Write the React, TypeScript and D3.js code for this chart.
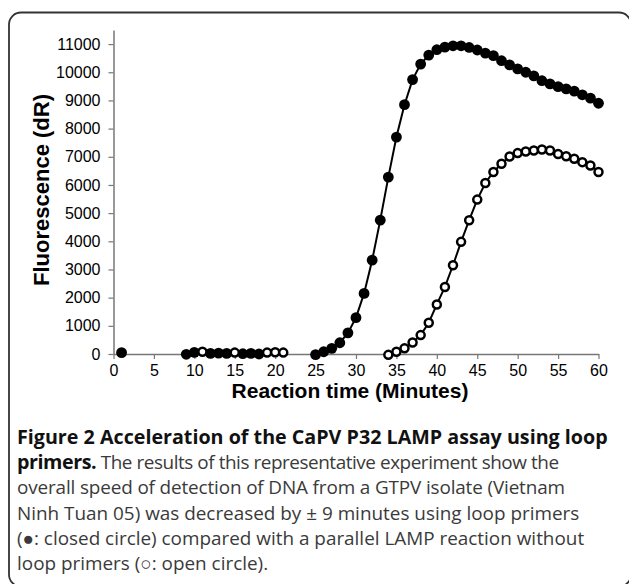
import { useEffect, useRef } from "react";
import * as d3 from "d3";

// closed circles: with loop primers
const closedX = [1, 9, 10, 12, 13, 14, 16, 17, 18, 25, 26, 27, 28, 29, 30, 31, 32, 33, 34, 35, 36, 37, 38, 39, 40, 41, 42, 43, 44, 45, 46, 47, 48, 49, 50, 51, 52, 53, 54, 55, 56, 57, 58, 59, 60];
const closedY = [50, -10, 60, 20, 30, 20, 10, 20, 0, -20, 80, 200, 400, 750, 1290, 2150, 3330, 4750, 6280, 7700, 8850, 9740, 10290, 10610, 10800, 10890, 10940, 10940, 10880, 10790, 10680, 10590, 10410, 10260, 10120, 10000, 9870, 9700, 9590, 9490, 9410, 9330, 9200, 9080, 8900];

// open circles: without loop primers
const openX = [11, 15, 19, 20, 21, 34, 35, 36, 37, 38, 39, 40, 41, 42, 43, 44, 45, 46, 47, 48, 49, 50, 51, 52, 53, 54, 55, 56, 57, 58, 59, 60];
const openY = [80, 50, 50, 60, 50, -30, 80, 200, 410, 670, 1110, 1760, 2380, 3150, 3980, 4750, 5480, 6070, 6460, 6750, 7010, 7130, 7190, 7220, 7260, 7220, 7100, 7020, 6930, 6810, 6690, 6460];

const xTicks = d3.range(0, 61, 5);
const yTicks = d3.range(0, 11001, 1000);

const captionLines = [
  { bold: "Figure 2 Acceleration of the CaPV P32 LAMP assay using loop", rest: "", fit: 0 },
  { bold: "primers.", rest: " The results of this representative experiment show the", fit: 542 },
  { bold: "", rest: "overall speed of detection of DNA from a GTPV isolate (Vietnam", fit: 548 },
  { bold: "", rest: "Ninh Tuan 05) was decreased by \u00b1 9 minutes using loop primers", fit: 0 },
  { bold: "", rest: "(\u25cf: closed circle) compared with a parallel LAMP reaction without", fit: 0 },
  { bold: "", rest: "loop primers (\u25cb: open circle).", fit: 0 },
];

export default function App() {
  const ref = useRef<SVGSVGElement>(null);

  useEffect(() => {
    if (!ref.current) return;
    const svg = d3.select(ref.current);
    svg.selectAll("*").remove();

    // frame
    svg
      .append("rect")
      .attr("x", 9)
      .attr("y", 12.5)
      .attr("width", 622)
      .attr("height", 574)
      .attr("rx", 12)
      .attr("fill", "#fff")
      .attr("stroke", "#333")
      .attr("stroke-width", 1.8);

    const x = d3.scaleLinear().domain([0, 60]).range([113.5, 598.5]);
    const y = d3.scaleLinear().domain([0, 11500]).range([354, 30]);

    const font = "'Liberation Sans', Arial, sans-serif";

    // x-axis
    const gx = svg
      .append("g")
      .attr("transform", `translate(0,${y(0)})`)
      .call(d3.axisBottom(x).tickValues(xTicks).tickSize(5).tickSizeOuter(0).tickPadding(6));
    gx.select(".domain").attr("stroke", "#777").attr("stroke-width", 1.5);
    gx.selectAll(".tick line").attr("stroke", "#777").attr("stroke-width", 1.2);
    gx.selectAll("text").style("font-family", font).style("font-size", "16px").attr("fill", "#000");

    // y-axis
    const gy = svg
      .append("g")
      .attr("transform", `translate(${x(0)},0)`)
      .call(
        d3.axisLeft(y).tickValues(yTicks).tickFormat(d3.format("d")).tickSize(5).tickSizeOuter(0).tickPadding(8)
      );
    gy.select(".domain").attr("stroke", "#777").attr("stroke-width", 1.5);
    gy.selectAll(".tick line").attr("stroke", "#777").attr("stroke-width", 1.2);
    gy.selectAll("text").style("font-family", font).style("font-size", "16px").attr("fill", "#000");

    // axis titles
    svg
      .append("text")
      .attr("x", 350)
      .attr("y", 398)
      .attr("text-anchor", "middle")
      .style("font-family", font)
      .style("font-weight", "bold")
      .style("font-size", "21px")
      .text("Reaction time (Minutes)");

    svg
      .append("text")
      .attr("transform", `translate(49,${190}) rotate(-90)`)
      .attr("text-anchor", "middle")
      .style("font-family", font)
      .style("font-weight", "bold")
      .style("font-size", "22px")
      .text("Fluorescence (dR)");

    const line = d3
      .line<[number, number]>()
      .x((d) => x(d[0]))
      .y((d) => y(d[1]));

    const closed = closedX.map((v, i) => [v, closedY[i]] as [number, number]);
    const open = openX.map((v, i) => [v, openY[i]] as [number, number]);

    svg
      .append("path")
      .datum(closed.filter((d) => d[0] >= 25))
      .attr("d", line)
      .attr("fill", "none")
      .attr("stroke", "#000")
      .attr("stroke-width", 2);

    svg
      .append("path")
      .datum(open.filter((d) => d[0] >= 34))
      .attr("d", line)
      .attr("fill", "none")
      .attr("stroke", "#000")
      .attr("stroke-width", 2);

    svg
      .selectAll(".closed")
      .data(closed)
      .join("circle")
      .attr("class", "closed")
      .attr("cx", (d) => x(d[0]))
      .attr("cy", (d) => y(d[1]))
      .attr("r", 5.4)
      .attr("fill", "#000");

    svg
      .selectAll(".open")
      .data(open)
      .join("circle")
      .attr("class", "open")
      .attr("cx", (d) => x(d[0]))
      .attr("cy", (d) => y(d[1]))
      .attr("r", 4)
      .attr("fill", "#fff")
      .attr("stroke", "#000")
      .attr("stroke-width", 2.5);

    // caption
    const capFont = "'Open Sans', 'Noto Sans', sans-serif";
    captionLines.forEach((ln, i) => {
      const t = svg
        .append("text")
        .attr("x", 17)
        .attr("y", 444 + i * 25.2)
        .style("font-family", capFont)
        .style("font-size", "18.9px");
      if (ln.fit) t.attr("textLength", ln.fit).attr("lengthAdjust", "spacing");
      if (ln.bold)
        t.append("tspan").style("font-weight", "bold").style("font-size", "19.7px").attr("fill", "#111").text(ln.bold);
      if (ln.rest) t.append("tspan").attr("fill", "#3a3a3a").text(ln.rest);
    });
  }, []);

  return (
    <svg
      ref={ref}
      width={629}
      height={584}
      style={{ position: "absolute", left: 0, top: 0, display: "block", background: "#fff" }}
    />
  );
}
